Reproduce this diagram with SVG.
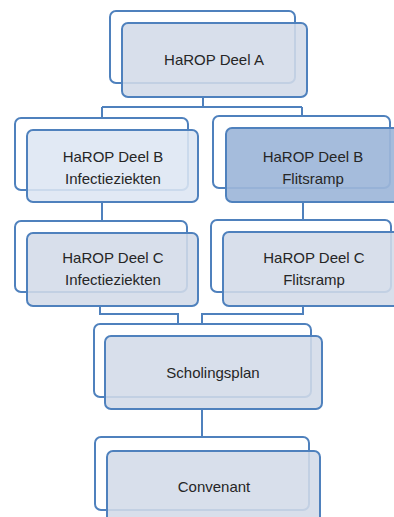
<svg xmlns="http://www.w3.org/2000/svg" width="394" height="517" viewBox="0 0 394 517">
<style>
.back{fill:#ffffff;stroke:#4f81bd;stroke-width:2}
.front{fill:#d3dbe8;fill-opacity:0.88;stroke:#4f81bd;stroke-width:2}
.light{fill:#dde6f2;fill-opacity:0.88}
.dark{fill:#9db6d9;fill-opacity:0.92}
.conn{fill:none;stroke:#4f81bd;stroke-width:2}
text{font-family:"Liberation Sans",Arial,sans-serif;font-size:15px;fill:#262626;text-anchor:middle}
</style>
<rect width="394" height="517" fill="#ffffff"/>
<g id="connectors">
<path class="conn" d="M203 97 V107 M102 107 H302 M102 107 V118 M302 107 V116"/>
<path class="conn" d="M102 202 V221 M303 202 V220"/>
<path class="conn" d="M100 306 V314 H178 V324 M303 306 V314 H202 V324"/>
<path class="conn" d="M202 409 V437"/>
</g>
<g id="nodeA">
<rect class="back" x="110" y="11" width="185" height="72" rx="6"/>
<rect class="front" x="122" y="23" width="185" height="74" rx="6"/>
<text x="214" y="65">HaROP Deel A</text>
</g>
<g id="nodeB1">
<rect class="back" x="15" y="118" width="173" height="72" rx="6"/>
<rect class="front light" x="27" y="130" width="171" height="72" rx="6"/>
<text x="113" y="162">HaROP Deel B</text>
<text x="113" y="184">Infectieziekten</text>
</g>
<g id="nodeB2">
<rect class="back" x="213" y="116" width="177" height="72" rx="6"/>
<rect class="front dark" x="226" y="128" width="176" height="74" rx="6"/>
<text x="313" y="162">HaROP Deel B</text>
<text x="313" y="184">Flitsramp</text>
</g>
<g id="nodeC1">
<rect class="back" x="15" y="221" width="172" height="71" rx="6"/>
<rect class="front" x="27" y="233" width="171" height="73" rx="6"/>
<text x="113" y="263">HaROP Deel C</text>
<text x="113" y="285">Infectieziekten</text>
</g>
<g id="nodeC2">
<rect class="back" x="211" y="220" width="180" height="72" rx="6"/>
<rect class="front" x="223" y="232" width="179" height="74" rx="6"/>
<text x="314" y="263">HaROP Deel C</text>
<text x="314" y="285">Flitsramp</text>
</g>
<g id="nodeScholing">
<rect class="back" x="94" y="324" width="217" height="73" rx="6"/>
<rect class="front" x="105" y="336" width="217" height="73" rx="6"/>
<text x="213" y="378">Scholingsplan</text>
</g>
<g id="nodeConvenant">
<rect class="back" x="95" y="437" width="214" height="73" rx="6"/>
<rect class="front" x="107" y="451" width="213" height="80" rx="6"/>
<text x="214" y="492">Convenant</text>
</g>
</svg>
